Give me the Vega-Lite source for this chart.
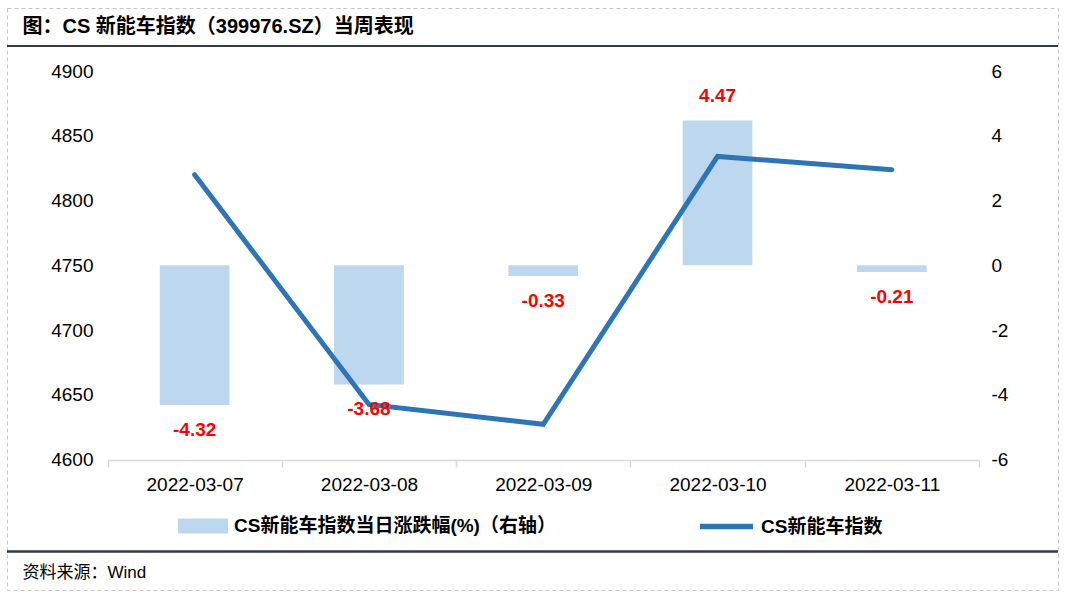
{
  "$schema": "https://vega.github.io/schema/vega-lite/v6.json",
  "autosize": "none",
  "width": 1051,
  "height": 582,
  "padding": {"left": 7, "top": 8, "right": 12, "bottom": 10},
  "background": "white",
  "config": {
    "font": "Liberation Sans, Noto Sans CJK SC",
    "locale": {"number": {"decimal": ".", "thousands": "", "grouping": [3], "currency": ["", ""], "minus": "-"}},
    "view": {"stroke": "#c6c6c6", "strokeDash": [4, 3], "strokeWidth": 1}
  },
  "data": {
    "values": [
      {"date": "2022-03-07", "pct": -4.32, "index": 4819.9},
      {"date": "2022-03-08", "pct": -3.68, "index": 4642.5},
      {"date": "2022-03-09", "pct": -0.33, "index": 4627.2},
      {"date": "2022-03-10", "pct": 4.47, "index": 4834.0},
      {"date": "2022-03-11", "pct": -0.21, "index": 4823.8}
    ]
  },
  "encoding": {
    "x": {
      "field": "date", "type": "ordinal",
      "scale": {"range": [100.5, 972], "paddingInner": 0, "paddingOuter": 0},
      "axis": {
        "title": "资料来源：Wind", "titleX": 15, "titleY": 112, "titleAlign": "left", "titleBaseline": "middle",
        "titleFontSize": 17, "titleFontWeight": "normal", "titleColor": "#000000",
        "offset": -130, "labelAngle": 0, "labelFontSize": 19, "labelColor": "#000000", "labelPadding": 8,
        "tickBand": "extent", "tickSize": 7, "tickColor": "#d9d9d9", "tickWidth": 1.5,
        "domainColor": "#d9d9d9", "domainWidth": 1.5, "grid": false
      }
    }
  },
  "layer": [
    {
      "mark": {"type": "bar", "width": {"band": 0.4}},
      "encoding": {
        "y": {
          "field": "pct", "type": "quantitative",
          "scale": {"domain": [-6, 6], "range": [451.5, 63], "nice": false, "zero": false},
          "axis": {
            "orient": "right", "offset": -69, "values": [-6, -4, -2, 0, 2, 4, 6], "format": "d",
            "domain": false, "ticks": false, "tickSize": 0, "grid": false, "labelPadding": 2,
            "labelFontSize": 19, "labelColor": "#000000", "title": null
          }
        },
        "fill": {
          "datum": "CS新能车指数当日涨跌幅(%)（右轴）",
          "scale": {"range": ["#bdd7ee"]},
          "legend": {
            "orient": "none", "legendX": 171, "legendY": 493, "title": null,
            "symbolType": "M-1,-0.3H1V0.3H-1Z", "symbolSize": 2500, "symbolStrokeWidth": 0, "symbolOpacity": 1,
            "labelFontSize": 19, "labelFontWeight": "bold", "labelColor": "#000000", "labelOffset": 6, "labelLimit": 600
          }
        }
      }
    },
    {
      "mark": {"type": "line", "strokeWidth": 5, "strokeCap": "round"},
      "encoding": {
        "y": {
          "field": "index", "type": "quantitative",
          "scale": {"domain": [4600, 4900], "range": [451.5, 63], "nice": false, "zero": false},
          "axis": {
            "orient": "left", "offset": -88, "values": [4600, 4650, 4700, 4750, 4800, 4850, 4900], "format": "d",
            "domain": false, "ticks": false, "tickSize": 0, "grid": false, "labelPadding": 2,
            "labelFontSize": 19, "labelColor": "#000000",
            "title": "图：CS 新能车指数（399976.SZ）当周表现",
            "titleX": -73, "titleY": 18, "titleAngle": 0, "titleAlign": "left", "titleBaseline": "middle",
            "titleFontSize": 20, "titleFontWeight": "bold", "titleColor": "#000000"
          }
        },
        "stroke": {
          "datum": "CS新能车指数",
          "scale": {"range": ["#2e75b6"]},
          "legend": {
            "orient": "none", "legendX": 690, "legendY": 489, "title": null,
            "symbolType": "stroke", "symbolSize": 2809, "symbolStrokeWidth": 5.5,
            "labelFontSize": 19, "labelFontWeight": "bold", "labelColor": "#000000", "labelOffset": 5, "labelLimit": 600
          }
        }
      }
    },
    {
      "layer": [
        {
          "mark": {"type": "rule", "color": "#333c48", "strokeWidth": 1.5},
          "encoding": {"x": null, "y": {"datum": 6.772, "type": "quantitative", "scale": {"domain": [-6, 6], "range": [451.5, 63], "nice": false, "zero": false}, "axis": null}}
        },
        {
          "mark": {"type": "rule", "color": "#333c48", "strokeWidth": 1.5},
          "encoding": {"x": null, "y": {"datum": -8.842, "type": "quantitative", "scale": {"domain": [-6, 6], "range": [451.5, 63], "nice": false, "zero": false}, "axis": null}}
        },
        {
          "transform": [{"filter": "datum.pct < 0"}],
          "mark": {"type": "text", "dy": 25, "baseline": "middle", "fontSize": 19, "fontWeight": "bold", "color": "#ff0000"},
          "encoding": {
            "y": {"field": "pct", "type": "quantitative", "scale": {"domain": [-6, 6], "range": [451.5, 63], "nice": false, "zero": false}, "axis": null},
            "text": {"field": "pct", "type": "quantitative", "format": ".2f"}
          }
        },
        {
          "transform": [{"filter": "datum.pct >= 0"}],
          "mark": {"type": "text", "dy": -25, "baseline": "middle", "fontSize": 19, "fontWeight": "bold", "color": "#ff0000"},
          "encoding": {
            "y": {"field": "pct", "type": "quantitative", "scale": {"domain": [-6, 6], "range": [451.5, 63], "nice": false, "zero": false}, "axis": null},
            "text": {"field": "pct", "type": "quantitative", "format": ".2f"}
          }
        }
      ]
    }
  ],
  "resolve": {"scale": {"y": "independent", "fill": "independent", "stroke": "independent"}}
}
